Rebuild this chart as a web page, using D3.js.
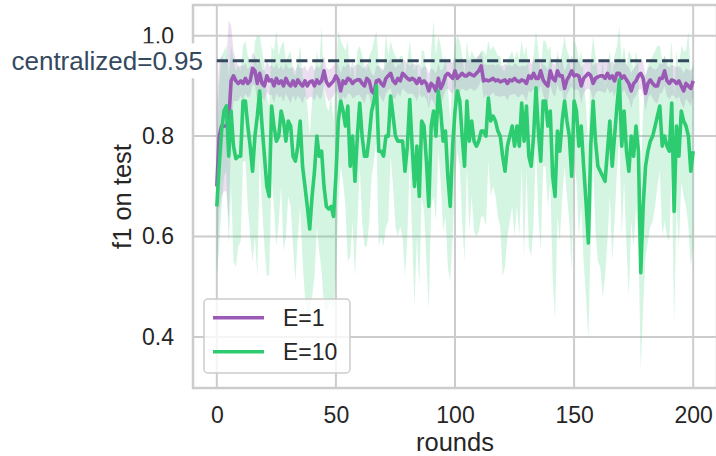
<!DOCTYPE html>
<html>
<head>
<meta charset="utf-8">
<script src="https://cdn.jsdelivr.net/npm/d3@7"></script>
<style>
  body { margin: 0; background: #fff; }
  svg { display: block; font-family: "Liberation Sans", Arial, sans-serif; }
  .tick text { fill: #262626; font-size: 23px; }
</style>
</head>
<body>
<svg width="716" height="456"></svg>
<script>
// rounds 0..200
var rounds = d3.range(0, 201);

// E=1 mean f1 and half width of its band
var e1Mean = [
  0.70, 0.80, 0.82, 0.82, 0.82, 0.83, 0.91, 0.92, 0.91, 0.905,
  0.91, 0.905, 0.915, 0.905, 0.91, 0.935, 0.93, 0.905, 0.925, 0.905,
  0.90, 0.92, 0.91, 0.912, 0.90, 0.915, 0.905, 0.91, 0.90, 0.915,
  0.905, 0.90, 0.91, 0.90, 0.912, 0.905, 0.90, 0.91, 0.90, 0.908,
  0.91, 0.90, 0.912, 0.905, 0.91, 0.93, 0.908, 0.90, 0.905, 0.91,
  0.92, 0.912, 0.89, 0.91, 0.905, 0.915, 0.912, 0.905, 0.91, 0.912,
  0.912, 0.905, 0.90, 0.915, 0.91, 0.89, 0.885, 0.91, 0.912, 0.905,
  0.90, 0.915, 0.92, 0.925, 0.91, 0.905, 0.915, 0.91, 0.925, 0.92,
  0.915, 0.912, 0.915, 0.912, 0.905, 0.915, 0.905, 0.91, 0.905, 0.89,
  0.905, 0.90, 0.89, 0.915, 0.895, 0.905, 0.92, 0.925, 0.92, 0.915,
  0.93, 0.915, 0.92, 0.925, 0.92, 0.92, 0.925, 0.922, 0.92, 0.925,
  0.93, 0.94, 0.91, 0.912, 0.91, 0.912, 0.915, 0.91, 0.912, 0.908,
  0.91, 0.912, 0.905, 0.912, 0.91, 0.915, 0.91, 0.908, 0.912, 0.91,
  0.905, 0.92, 0.915, 0.925, 0.915, 0.915, 0.93, 0.912, 0.905, 0.90,
  0.93, 0.915, 0.91, 0.93, 0.92, 0.92, 0.895, 0.912, 0.92, 0.93,
  0.92, 0.922, 0.92, 0.90, 0.915, 0.92, 0.925, 0.92, 0.905, 0.915,
  0.918, 0.92, 0.92, 0.915, 0.925, 0.915, 0.92, 0.91, 0.925, 0.925,
  0.915, 0.92, 0.912, 0.905, 0.89, 0.905, 0.91, 0.92, 0.925, 0.915,
  0.885, 0.905, 0.912, 0.905, 0.90, 0.90, 0.915, 0.915, 0.93, 0.91,
  0.905, 0.912, 0.91, 0.905, 0.91, 0.90, 0.89, 0.905, 0.90, 0.895, 0.91
];
var e1Spread = [
  0.16, 0.15, 0.14, 0.13, 0.13, 0.20, 0.11, 0.05, 0.04, 0.035,
  0.03, 0.035, 0.03, 0.028, 0.03, 0.032, 0.03, 0.035, 0.03, 0.028,
  0.03, 0.032, 0.028, 0.03, 0.035, 0.03, 0.028, 0.03, 0.032, 0.03,
  0.03, 0.035, 0.028, 0.03, 0.032, 0.03, 0.035, 0.03, 0.028, 0.03,
  0.032, 0.03, 0.028, 0.03, 0.035, 0.03, 0.028, 0.032, 0.03, 0.03,
  0.028, 0.03, 0.035, 0.03, 0.032, 0.03, 0.028, 0.03, 0.032, 0.03,
  0.03, 0.032, 0.035, 0.03, 0.028, 0.035, 0.035, 0.03, 0.028, 0.03,
  0.032, 0.03, 0.028, 0.03, 0.035, 0.03, 0.028, 0.032, 0.03, 0.03,
  0.03, 0.028, 0.03, 0.032, 0.035, 0.03, 0.028, 0.03, 0.032, 0.035,
  0.03, 0.032, 0.035, 0.03, 0.035, 0.03, 0.028, 0.03, 0.032, 0.03,
  0.028, 0.03, 0.032, 0.03, 0.028, 0.03, 0.03, 0.028, 0.03, 0.032,
  0.03, 0.028, 0.035, 0.03, 0.032, 0.03, 0.028, 0.03, 0.032, 0.03,
  0.03, 0.032, 0.035, 0.03, 0.028, 0.03, 0.032, 0.03, 0.028, 0.03,
  0.035, 0.03, 0.028, 0.03, 0.032, 0.03, 0.028, 0.03, 0.035, 0.032,
  0.028, 0.03, 0.032, 0.028, 0.03, 0.03, 0.035, 0.03, 0.028, 0.03,
  0.03, 0.028, 0.03, 0.035, 0.03, 0.028, 0.03, 0.03, 0.035, 0.03,
  0.028, 0.03, 0.032, 0.03, 0.028, 0.03, 0.03, 0.032, 0.028, 0.03,
  0.03, 0.028, 0.03, 0.032, 0.035, 0.03, 0.03, 0.028, 0.03, 0.032,
  0.035, 0.03, 0.028, 0.03, 0.032, 0.035, 0.03, 0.028, 0.03, 0.03,
  0.032, 0.03, 0.03, 0.032, 0.03, 0.035, 0.035, 0.03, 0.032, 0.035, 0.03
];

// E=10 mean f1 with lower / upper band edges
var e10Mean = [
  0.66, 0.74, 0.81, 0.85, 0.86, 0.76, 0.85, 0.78, 0.755, 0.76,
  0.76, 0.87, 0.87, 0.82, 0.78, 0.73, 0.80, 0.84, 0.89, 0.82,
  0.76, 0.70, 0.68, 0.86, 0.82, 0.79, 0.80, 0.85, 0.83, 0.79,
  0.83, 0.82, 0.76, 0.75, 0.78, 0.83, 0.74, 0.70, 0.66, 0.615,
  0.68, 0.73, 0.80, 0.76, 0.77, 0.70, 0.66, 0.655, 0.66, 0.64,
  0.72, 0.83, 0.87, 0.85, 0.82, 0.86, 0.74, 0.80, 0.71, 0.80,
  0.866, 0.80, 0.76, 0.76, 0.80, 0.85, 0.87, 0.90, 0.77, 0.77,
  0.76, 0.80, 0.80, 0.88, 0.84, 0.80, 0.79, 0.79, 0.79, 0.73,
  0.78, 0.873, 0.78, 0.70, 0.78, 0.68, 0.83, 0.82, 0.75, 0.66,
  0.82, 0.85, 0.80, 0.89, 0.85, 0.79, 0.81, 0.72, 0.66, 0.78,
  0.85, 0.89, 0.87, 0.80, 0.74, 0.87, 0.79, 0.83, 0.79, 0.78,
  0.79, 0.81, 0.81, 0.80, 0.876, 0.83, 0.84, 0.83, 0.81, 0.80,
  0.76, 0.73, 0.78, 0.80, 0.82, 0.78, 0.82, 0.78, 0.866, 0.79,
  0.86, 0.76, 0.74, 0.80, 0.896, 0.81, 0.75, 0.87, 0.87, 0.82,
  0.85, 0.72, 0.68, 0.81, 0.77, 0.83, 0.87, 0.83, 0.80, 0.72,
  0.87, 0.85, 0.78, 0.82, 0.74, 0.67, 0.587, 0.78, 0.87, 0.79,
  0.74, 0.73, 0.72, 0.71, 0.77, 0.83, 0.74, 0.80, 0.86, 0.912,
  0.78, 0.85, 0.77, 0.73, 0.80, 0.76, 0.82, 0.77, 0.528, 0.66,
  0.74, 0.77, 0.79, 0.80, 0.82, 0.84, 0.86, 0.78, 0.80, 0.78,
  0.77, 0.866, 0.65, 0.82, 0.76, 0.85, 0.83, 0.82, 0.80, 0.73, 0.77
];
var e10Low = [
  0.52, 0.58, 0.66, 0.72, 0.73, 0.58, 0.70, 0.55, 0.54, 0.58,
  0.59, 0.75, 0.75, 0.66, 0.60, 0.55, 0.60, 0.52, 0.76, 0.66,
  0.58, 0.52, 0.525, 0.72, 0.66, 0.58, 0.63, 0.70, 0.57, 0.60,
  0.68, 0.66, 0.58, 0.51, 0.60, 0.66, 0.55, 0.48, 0.44, 0.44,
  0.48, 0.52, 0.62, 0.57, 0.53, 0.46, 0.45, 0.46, 0.47, 0.45,
  0.52, 0.66, 0.74, 0.71, 0.66, 0.55, 0.56, 0.63, 0.52, 0.62,
  0.74, 0.63, 0.58, 0.58, 0.63, 0.72, 0.75, 0.79, 0.58, 0.60,
  0.58, 0.62, 0.63, 0.76, 0.70, 0.62, 0.60, 0.62, 0.60, 0.52,
  0.60, 0.75, 0.60, 0.46, 0.60, 0.50, 0.68, 0.65, 0.55, 0.455,
  0.66, 0.68, 0.63, 0.77, 0.71, 0.61, 0.64, 0.54, 0.51, 0.60,
  0.71, 0.77, 0.74, 0.63, 0.55, 0.74, 0.61, 0.68, 0.61, 0.60,
  0.61, 0.64, 0.64, 0.62, 0.75, 0.68, 0.70, 0.68, 0.64, 0.62,
  0.52, 0.54, 0.60, 0.63, 0.66, 0.60, 0.66, 0.60, 0.74, 0.56,
  0.73, 0.58, 0.56, 0.63, 0.78, 0.64, 0.57, 0.74, 0.74, 0.66,
  0.71, 0.52, 0.436, 0.64, 0.59, 0.68, 0.74, 0.68, 0.63, 0.53,
  0.75, 0.71, 0.60, 0.66, 0.55, 0.48, 0.396, 0.60, 0.74, 0.61,
  0.55, 0.54, 0.48, 0.52, 0.59, 0.68, 0.55, 0.63, 0.73, 0.80,
  0.60, 0.71, 0.58, 0.48, 0.63, 0.58, 0.66, 0.59, 0.334, 0.46,
  0.56, 0.59, 0.62, 0.63, 0.66, 0.70, 0.73, 0.60, 0.63, 0.60,
  0.59, 0.74, 0.422, 0.66, 0.58, 0.71, 0.68, 0.66, 0.62, 0.54, 0.58
];
var e10High = [
  0.80, 0.90, 0.96, 0.97, 0.98, 0.92, 0.98, 0.95, 0.93, 0.94,
  0.93, 0.98, 0.99, 0.96, 0.95, 0.91, 0.99, 1.00, 1.00, 0.97,
  0.94, 0.88, 0.86, 0.98, 0.97, 1.01, 0.96, 0.98, 0.99, 0.95,
  0.96, 0.97, 0.93, 0.92, 0.95, 0.98, 0.92, 0.90, 0.86, 0.80,
  0.87, 0.93, 0.97, 0.94, 1.02, 0.90, 0.86, 0.85, 0.88, 0.83,
  0.92, 1.01, 0.99, 0.98, 0.97, 0.99, 0.92, 0.96, 0.90, 0.97,
  0.98, 0.96, 0.94, 0.93, 0.96, 0.97, 0.99, 1.01, 0.94, 0.93,
  0.93, 1.005, 0.96, 0.99, 0.97, 0.96, 0.95, 0.96, 0.96, 0.92,
  0.95, 0.99, 0.95, 0.93, 0.95, 0.88, 0.97, 0.97, 0.93, 0.86,
  0.97, 1.03, 0.96, 1.00, 0.98, 0.95, 0.96, 0.90, 0.83, 0.94,
  0.98, 1.00, 0.99, 0.96, 0.92, 0.99, 0.95, 0.97, 0.96, 0.95,
  0.96, 0.97, 0.97, 0.96, 0.99, 0.97, 0.98, 0.97, 0.96, 0.96,
  0.93, 0.93, 0.95, 0.96, 0.97, 0.95, 0.97, 0.95, 0.99, 0.96,
  0.98, 0.93, 0.92, 0.96, 1.01, 0.97, 0.92, 0.99, 0.99, 0.97,
  0.98, 0.92, 0.92, 0.97, 0.94, 0.97, 1.00, 0.97, 0.96, 0.90,
  0.99, 0.98, 0.95, 0.97, 0.92, 0.86, 0.78, 0.95, 1.00, 0.96,
  0.92, 0.91, 0.95, 0.90, 0.94, 0.97, 0.92, 0.96, 0.98, 1.02,
  0.95, 0.98, 0.94, 0.97, 0.96, 0.93, 0.97, 0.94, 0.72, 0.85,
  0.92, 0.94, 0.95, 0.96, 0.97, 0.98, 0.98, 0.95, 0.96, 0.95,
  0.94, 0.99, 0.88, 0.97, 0.93, 0.98, 0.97, 0.97, 1.01, 0.92, 0.95
];

var centralized = 0.95;
var xTicks = [0, 50, 100, 150, 200];
var yTicks = [0.4, 0.6, 0.8, 1.0];
var seriesNames = ["E=1", "E=10"];
var colors = ["#9b59b6", "#2ecc71"];

var plotLeft = 193, plotRight = 717, plotTop = 5, plotBottom = 388;

var svg = d3.select("svg");

var x = d3.scaleLinear().domain([-10, 210]).range([plotLeft, plotRight]);
var y = d3.scaleLinear().domain([0.2984, 1.0611]).range([plotBottom, plotTop]);

svg.append("defs").append("clipPath")
    .attr("id", "plotclip")
  .append("rect")
    .attr("x", plotLeft).attr("y", plotTop)
    .attr("width", plotRight - plotLeft).attr("height", plotBottom - plotTop);

//Grid lines
svg.append("g")
  .selectAll("line")
  .data(xTicks)
  .enter()
  .append("line")
  .attr("x1", function(d){ return x(d); })
  .attr("x2", function(d){ return x(d); })
  .attr("y1", plotTop).attr("y2", plotBottom)
  .attr("stroke", "#cccccc")
  .attr("stroke-width", 2);

svg.append("g")
  .selectAll("line")
  .data(yTicks)
  .enter()
  .append("line")
  .attr("y1", function(d){ return y(d); })
  .attr("y2", function(d){ return y(d); })
  .attr("x1", plotLeft).attr("x2", plotRight)
  .attr("stroke", "#cccccc")
  .attr("stroke-width", 2);

//Spines
svg.append("rect")
  .attr("x", plotLeft).attr("y", plotTop)
  .attr("width", plotRight - plotLeft).attr("height", plotBottom - plotTop)
  .attr("fill", "none")
  .attr("stroke", "#cccccc")
  .attr("stroke-width", 2.5);

//Tick labels
svg.append("g")
  .attr("transform", "translate(0," + plotBottom + ")")
  .call(d3.axisBottom(x).tickValues(xTicks).tickSize(0).tickPadding(19).tickFormat(d3.format("d")))
  .call(function(g){ g.select(".domain").remove(); })
  .selectAll("text").style("font-family", null);

svg.append("g")
  .attr("transform", "translate(" + plotLeft + ",0)")
  .call(d3.axisLeft(y).tickValues(yTicks).tickSize(0).tickPadding(19).tickFormat(d3.format(".1f")))
  .call(function(g){ g.select(".domain").remove(); })
  .selectAll("text").style("font-family", null);

var plot = svg.append("g").attr("clip-path", "url(#plotclip)");

var line = function(vals) {
  return d3.line()
    .x(function(d){ return x(d); })
    .y(function(d, i){ return y(vals[i]); })(rounds);
};

var band = function(lo, hi) {
  return d3.area()
    .x(function(d){ return x(d); })
    .y0(function(d, i){ return y(lo[i]); })
    .y1(function(d, i){ return y(hi[i]); })(rounds);
};

var e1Low = e1Mean.map(function(m, i){ return m - e1Spread[i]; });
var e1High = e1Mean.map(function(m, i){ return m + e1Spread[i]; });

//Bands sit under both lines
plot.append("path")
  .attr("d", band(e1Low, e1High))
  .attr("fill", colors[0])
  .attr("fill-opacity", 0.2);

plot.append("path")
  .attr("d", band(e10Low, e10High))
  .attr("fill", colors[1])
  .attr("fill-opacity", 0.2);

plot.append("path")
  .attr("d", line(e1Mean))
  .attr("fill", "none")
  .attr("stroke", colors[0])
  .attr("stroke-width", 3.6)
  .attr("stroke-linejoin", "round");

plot.append("path")
  .attr("d", line(e10Mean))
  .attr("fill", "none")
  .attr("stroke", colors[1])
  .attr("stroke-width", 3.6)
  .attr("stroke-linejoin", "round");

//Centralized reference line
svg.append("line")
  .attr("x1", x(0)).attr("x2", x(200))
  .attr("y1", y(centralized)).attr("y2", y(centralized))
  .attr("stroke", "#34495e")
  .attr("stroke-width", 3)
  .attr("stroke-dasharray", "11.1,4.8");

svg.append("rect")
  .attr("x", 4).attr("y", y(centralized) - 17.5)
  .attr("width", 204).attr("height", 35)
  .attr("fill", "#ffffff");

svg.append("text")
  .attr("x", 203)
  .attr("y", y(centralized))
  .attr("dy", "0.35em")
  .attr("text-anchor", "end")
  .attr("fill", "#34495e")
  .style("font-size", "26px")
  .text("centralized=" + centralized);

//Axis labels
svg.append("text")
  .attr("x", (plotLeft + plotRight) / 2)
  .attr("y", 451)
  .attr("text-anchor", "middle")
  .attr("fill", "#262626")
  .style("font-size", "25.5px")
  .text("rounds");

svg.append("text")
  .attr("transform", "translate(131," + ((plotTop + plotBottom) / 2) + ") rotate(-90)")
  .attr("text-anchor", "middle")
  .attr("fill", "#262626")
  .style("font-size", "25.5px")
  .text("f1 on test");

//Legend
var legend = svg.append("g");
legend.append("rect")
  .attr("x", 204).attr("y", 299)
  .attr("width", 146).attr("height", 74)
  .attr("rx", 4)
  .attr("fill", "#ffffff")
  .attr("fill-opacity", 0.8)
  .attr("stroke", "#cccccc")
  .attr("stroke-width", 1.5);

legend.selectAll(".lg")
  .data(seriesNames)
  .enter()
  .append("line")
  .attr("x1", 213).attr("x2", 264)
  .attr("y1", function(d, i){ return 317.7 + i * 34; })
  .attr("y2", function(d, i){ return 317.7 + i * 34; })
  .attr("stroke", function(d, i){ return colors[i]; })
  .attr("stroke-width", 3.6);

legend.selectAll("text")
  .data(seriesNames)
  .enter()
  .append("text")
  .attr("x", 283)
  .attr("y", function(d, i){ return 317.7 + i * 34; })
  .attr("dy", "0.35em")
  .attr("fill", "#262626")
  .style("font-size", "23px")
  .text(function(d){ return d; });
</script>
</body>
</html>
